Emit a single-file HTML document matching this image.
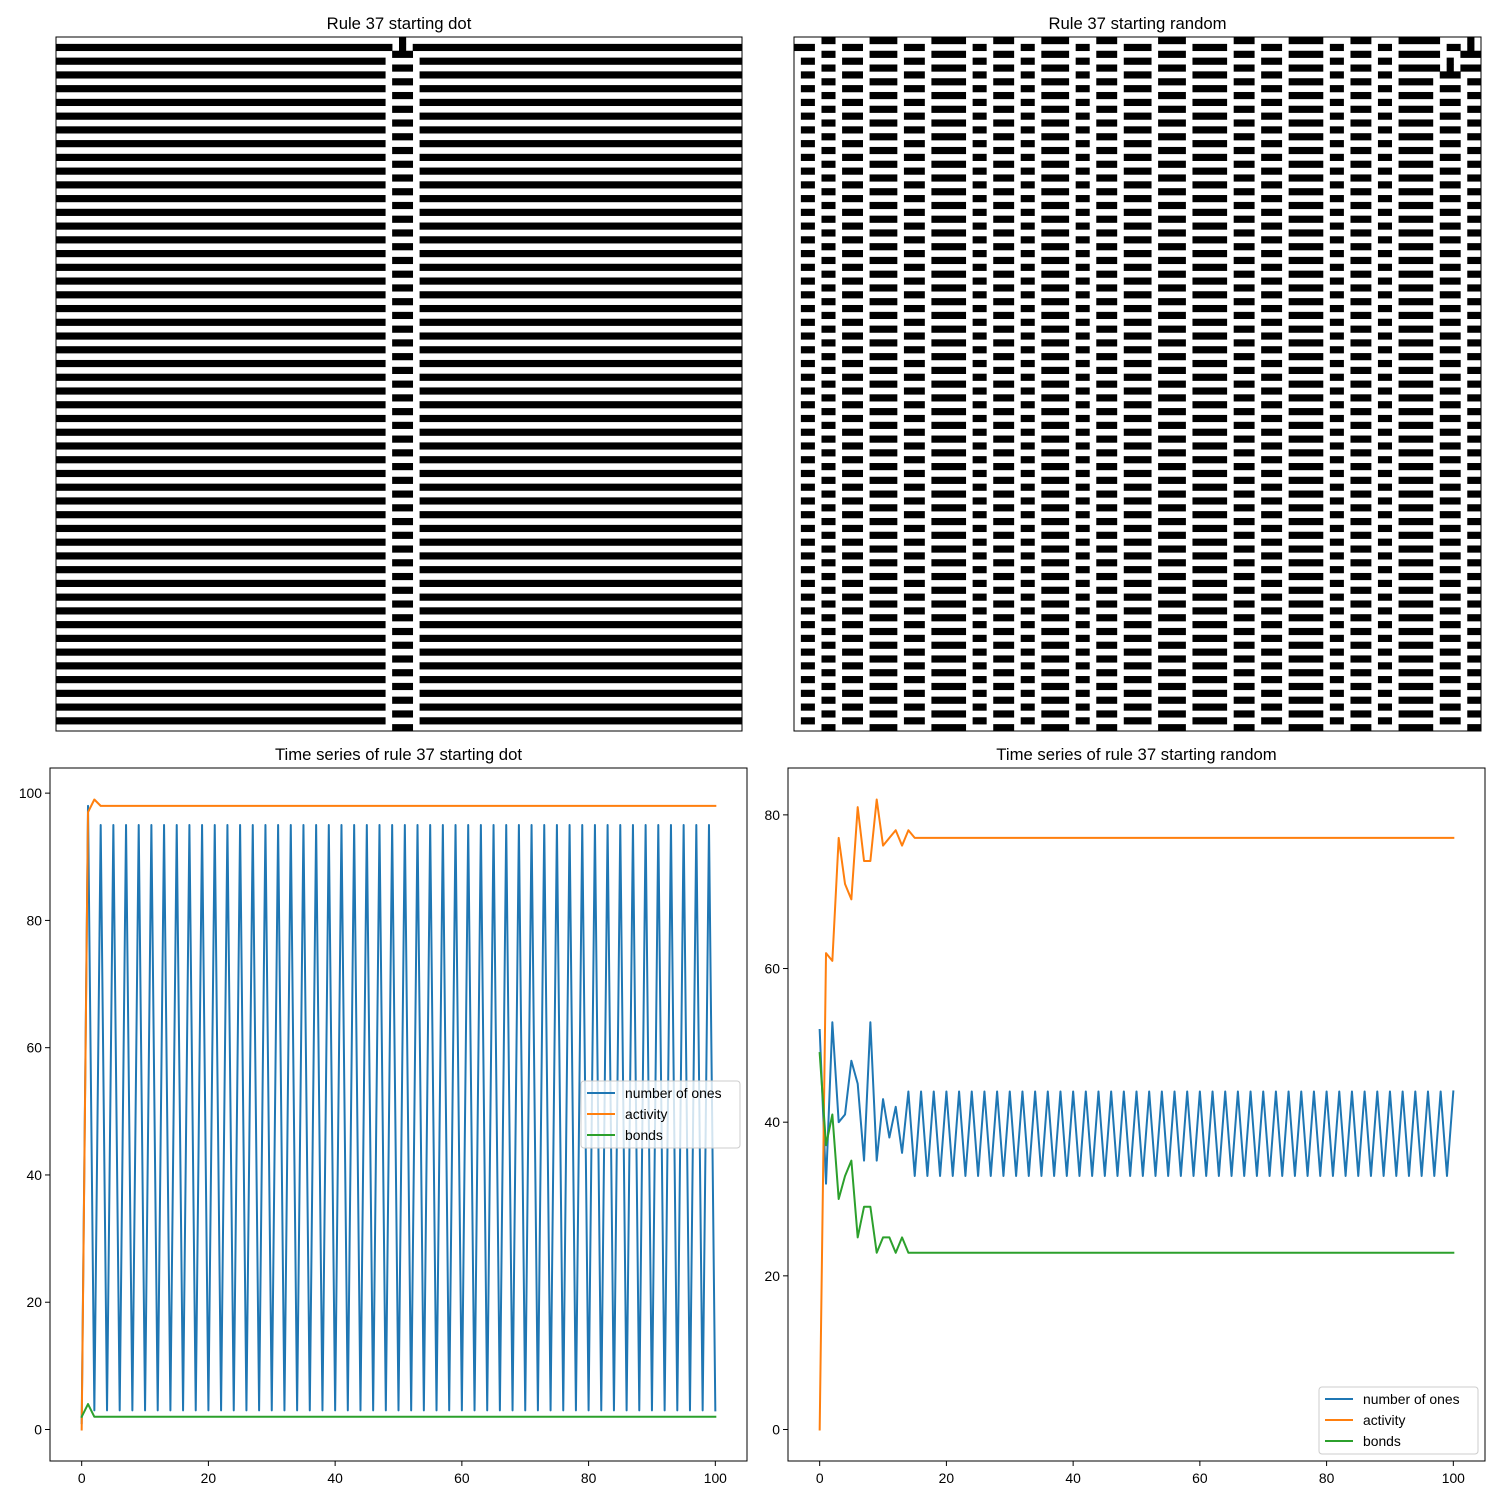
<!DOCTYPE html>
<html><head><meta charset="utf-8"><style>
html,body{margin:0;padding:0;background:#fff;}
svg{display:block;font-family:"Liberation Sans","DejaVu Sans",sans-serif;}
</style></head><body>
<svg id="fig" width="1500" height="1500" viewBox="0 0 1500 1500"></svg>
<script>
// ---------- data ----------
const nCells = 100;
const nSteps = 101;
const ruleNumber = 37;
const dotInit = new Array(100).fill(0);
dotInit[50] = 1;
const randomInitStr = "0000110000011110000011111000011100001111000011100000011110000000111000001111100001110000111111000010";
const randomInit = randomInitStr.split("").map(Number);

const timeSteps = Array.from({length:101},(_,i)=>i);
const dotOnes = [1,98,3,
95,3,95,3,95,3,95,3,95,3,95,3,95,3,95,3,95,3,
95,3,95,3,95,3,95,3,95,3,95,3,95,3,95,3,95,3,
95,3,95,3,95,3,95,3,95,3,95,3,95,3,95,3,95,3,
95,3,95,3,95,3,95,3,95,3,95,3,95,3,95,3,95,3,
95,3,95,3,95,3,95,3,95,3,95,3,95,3,95,3,95,3,
95,3,95,3,95,3,95,3,95,3,95,3,95,3,95,3,95,3,95,3];
const dotActivity = [0,97,99,
98,98,98,98,98,98,98,98,98,98,98,98,98,98,98,98,98,98,98,98,98,98,98,98,98,98,98,98,98,98,
98,98,98,98,98,98,98,98,98,98,98,98,98,98,98,98,98,98,98,98,98,98,98,98,98,98,98,98,98,98,
98,98,98,98,98,98,98,98,98,98,98,98,98,98,98,98,98,98,98,98,98,98,98,98,98,98,98,98,98,98,
98,98,98,98,98,98,98,98];
const dotBonds = [2,4,
2,2,2,2,2,2,2,2,2,2,2,2,2,2,2,2,2,2,2,2,2,2,2,2,2,2,2,2,2,2,2,2,2,2,2,2,2,2,2,2,2,2,2,2,2,2,2,2,
2,2,2,2,2,2,2,2,2,2,2,2,2,2,2,2,2,2,2,2,2,2,2,2,2,2,2,2,2,2,2,2,2,2,2,2,2,2,2,2,2,2,2,2,2,2,2,2,2,2,2];
const randOnes = [52,32,53,40,41,48,45,35,53,35,43,38,42,36,44,
33,44,33,44,33,44,33,44,33,44,33,44,33,44,33,44,33,44,33,44,33,44,33,44,
33,44,33,44,33,44,33,44,33,44,33,44,33,44,33,44,33,44,33,44,33,44,33,44,
33,44,33,44,33,44,33,44,33,44,33,44,33,44,33,44,33,44,33,44,33,44,33,44,
33,44,33,44,33,44,33,44,33,44,33,44,33,44,33,44,33,44,33,44,33,44,33,44,33,44];
const randActivity = [0,62,61,77,71,69,81,74,74,82,76,77,78,76,78,
77,77,77,77,77,77,77,77,77,77,77,77,77,77,77,77,77,77,77,77,77,77,77,77,77,77,77,77,
77,77,77,77,77,77,77,77,77,77,77,77,77,77,77,77,77,77,77,77,77,77,77,77,77,77,77,77,
77,77,77,77,77,77,77,77,77,77,77,77,77,77,77,77,77,77,77,77,77,77,77,77,77,77,77,77,77,77];
const randBonds = [49,37,41,30,33,35,25,29,29,23,25,25,23,25,23,
23,23,23,23,23,23,23,23,23,23,23,23,23,23,23,23,23,23,23,23,23,23,23,23,23,23,23,23,
23,23,23,23,23,23,23,23,23,23,23,23,23,23,23,23,23,23,23,23,23,23,23,23,23,23,23,23,
23,23,23,23,23,23,23,23,23,23,23,23,23,23,23,23,23,23,23,23,23,23,23,23,23,23,23,23,23,23];
const xTicks = [0,20,40,60,80,100];
const yTicksLeft = [0,20,40,60,80,100];
const yTicksRight = [0,20,40,60,80];
const seriesNames = ["number of ones","activity","bonds"];

// ---------- helpers ----------
const NS = "http://www.w3.org/2000/svg";
const svg = document.getElementById("fig");
function mk(tag, attrs, parent){
  const e = document.createElementNS(NS, tag);
  for (const k in attrs) e.setAttribute(k, attrs[k]);
  (parent||svg).appendChild(e);
  return e;
}
function simulate(init){
  const rows=[init.slice()];
  for(let t=1;t<nSteps;t++){
    const p=rows[t-1], r=[];
    for(let i=0;i<nCells;i++){
      const l=p[(i-1+nCells)%nCells], c=p[i], rr=p[(i+1)%nCells];
      r.push((ruleNumber>>(l*4+c*2+rr))&1);
    }
    rows.push(r);
  }
  return rows;
}
function drawCA(rows, x0, y0, w, h, name, title){
  const g = mk("g", {});
  
  
  const cw=w/nCells, ch=h/rows.length;
  rows.forEach((r,t)=>{
    let i=0;
    while(i<nCells){
      if(r[i]){
        let j=i; while(j<nCells&&r[j]) j++;
        const rc = mk("rect",{x:x0+i*cw,y:y0+t*ch,width:(j-i)*cw+0.3,height:ch+0.3,fill:"#000"},g);
        
        
        i=j;
      } else i++;
    }
  });
  const fr = mk("rect",{x:x0,y:y0,width:w,height:h,fill:"none",stroke:"#000","stroke-width":1});
  
  
  const tt = mk("text",{x:x0+w/2,y:y0-8,"text-anchor":"middle","font-size":16.7,fill:"#000"});
  tt.textContent=title;
  
  
}
function drawTS(ax, series, yTicks, legendPos, name, title){
  const xs = v => ax.x0 + (v-ax.xmin)/(ax.xmax-ax.xmin)*(ax.x1-ax.x0);
  const ys = v => ax.y1 - (v-ax.ymin)/(ax.ymax-ax.ymin)*(ax.y1-ax.y0);
  const g = mk("g",{});
  
  
  const colors=["#1f77b4","#ff7f0e","#2ca02c"];
  series.forEach((s,k)=>{
    const d = s.map((v,i)=>(i?"L":"M")+xs(timeSteps[i]).toFixed(2)+","+ys(v).toFixed(2)).join("");
    const p = mk("path",{d:d,fill:"none",stroke:colors[k],"stroke-width":2,"stroke-linejoin":"round","stroke-linecap":"square"},g);
    
    
  });
  const fr = mk("rect",{x:ax.x0,y:ax.y0,width:ax.x1-ax.x0,height:ax.y1-ax.y0,fill:"none",stroke:"#000","stroke-width":1},g);
  
  
  xTicks.forEach(v=>{
    const x=xs(v);
    mk("line",{x1:x,x2:x,y1:ax.y1,y2:ax.y1+5,stroke:"#000","stroke-width":1},g);
    const t=mk("text",{x:x,y:ax.y1+22,"text-anchor":"middle","font-size":13.9},g);
    t.textContent=v;
    
    
  });
  yTicks.forEach(v=>{
    const y=ys(v);
    mk("line",{x1:ax.x0-5,x2:ax.x0,y1:y,y2:y,stroke:"#000","stroke-width":1},g);
    const t=mk("text",{x:ax.x0-8,y:y+5,"text-anchor":"end","font-size":13.9},g);
    t.textContent=v;
    
    
  });
  const tt = mk("text",{x:(ax.x0+ax.x1)/2,y:ax.y0-8,"text-anchor":"middle","font-size":16.7},g);
  tt.textContent=title;
  
  
  const lg = mk("g",{},g);
  
  
  mk("rect",{x:legendPos.x,y:legendPos.y,width:159,height:67,rx:3,fill:"#fff","fill-opacity":0.8,stroke:"#ccc","stroke-width":1},lg);
  seriesNames.forEach((n,k)=>{
    const y=legendPos.y+12+k*21;
    mk("line",{x1:legendPos.x+6,x2:legendPos.x+34,y1:y,y2:y,stroke:colors[k],"stroke-width":2},lg);
    const t=mk("text",{x:legendPos.x+44,y:y+5,"font-size":13.9},lg);
    t.textContent=n;
    
    
  });
}

// ---------- draw ----------
drawCA(simulate(dotInit), 56, 37, 686, 694, "ca-starting-dot", "Rule 37 starting dot");
drawCA(simulate(randomInit), 794, 37, 687, 694, "ca-starting-random", "Rule 37 starting random");
drawTS({x0:50,x1:747,y0:768,y1:1461,xmin:-5,xmax:105,ymin:-4.95,ymax:103.95},
  [dotOnes,dotActivity,dotBonds], yTicksLeft, {x:581,y:1081}, "timeseries-dot", "Time series of rule 37 starting dot");
drawTS({x0:788,x1:1485,y0:768,y1:1461,xmin:-5,xmax:105,ymin:-4.1,ymax:86.1},
  [randOnes,randActivity,randBonds], yTicksRight, {x:1319,y:1387}, "timeseries-random", "Time series of rule 37 starting random");
</script>
</body></html>
